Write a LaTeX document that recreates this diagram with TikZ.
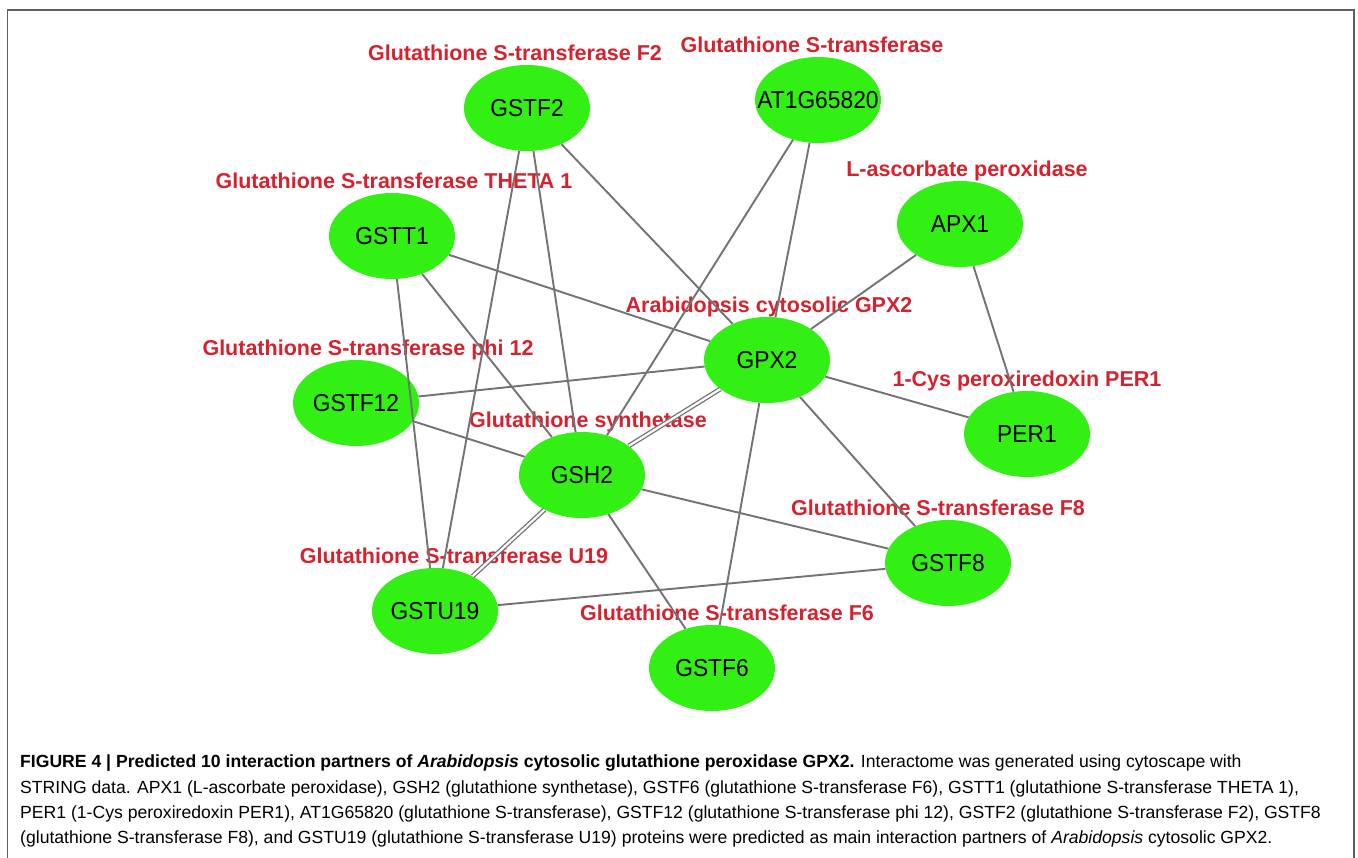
\documentclass[tikz,border=0pt]{standalone}
\usepackage{fontspec}
\setmainfont{Liberation Sans}
\usepackage{xcolor}
\usetikzlibrary{shapes.geometric,positioning}
\definecolor{protgreen}{RGB}{50,240,20}
\definecolor{labelred}{RGB}{214,34,46}
\definecolor{edgegray}{RGB}{115,115,115}
\definecolor{framegray}{RGB}{95,95,95}

\begin{document}
\begin{tikzpicture}[
        x=1pt, y=-1pt,
        prot/.style={ellipse, fill=protgreen, minimum width=126pt, minimum height=86pt, inner sep=0pt, label distance=3pt, font=\fontsize{24.5}{24.5}\selectfont\addfontfeatures{FakeStretch=0.93}},
        lbl/.style={text=labelred, inner sep=0pt, text height=15.5pt, text depth=4pt, font=\fontsize{21.5}{21.5}\selectfont\bfseries},
        edge/.style={draw=edgegray, line width=1.9pt},
        dbl/.style={draw=edgegray, line width=1.3pt, double=white, double distance=2.2pt}
    ]
        \useasboundingbox[fill=white] (0,0) rectangle (1358,858);
        \draw[framegray, line width=1.6pt] (7.5,858) |- (1354,10) -- (1354,858);

        % interaction partners
        \node[prot, label={[lbl, xshift=-12pt]above:Glutathione S-transferase F2}] (gstf2) at (527,108) {GSTF2};
        \node[prot, inner xsep=-18pt, label={[lbl, xshift=-6pt]above:Glutathione S-transferase}] (at1g) at (818,100) {AT1G65820};
        \node[prot, label={[lbl, xshift=2pt]above:Glutathione S-transferase THETA 1}] (gstt1) at (392,236) {GSTT1};
        \node[prot, label={[lbl, xshift=7pt]above:L-ascorbate peroxidase}] (apx1) at (960,224) {APX1};
        \node[prot, label={[lbl, xshift=2pt]above:Arabidopsis cytosolic GPX2}] (gpx2) at (767,360) {GPX2};
        \node[prot, label={[lbl, xshift=12pt]above:Glutathione S-transferase phi 12}] (gstf12) at (356,403) {GSTF12};
        \node[prot, label={[lbl]above:1-Cys peroxiredoxin PER1}] (per1) at (1027,434) {PER1};
        \node[prot, label={[lbl, xshift=6pt]above:Glutathione synthetase}] (gsh2) at (582,475) {GSH2};
        \node[prot, label={[lbl, xshift=-10pt]above:Glutathione S-transferase F8}] (gstf8) at (948,563) {GSTF8};
        \node[prot, label={[lbl, xshift=19pt]above:Glutathione S-transferase U19}] (gstu19) at (435,611) {GSTU19};
        \node[prot, label={[lbl, xshift=15pt]above:Glutathione S-transferase F6}] (gstf6) at (712,668) {GSTF6};

        % interactions
        \foreach \a/\b in {gstf2/gpx2, gstf2/gsh2, gstf2/gstu19, at1g/gsh2, at1g/gpx2,
                gstt1/gpx2, gstt1/gsh2, gstt1/gstu19, apx1/gpx2, apx1/per1, gpx2/per1,
                gpx2/gstf12, gpx2/gstf6, gpx2/gstf8, gstf12/gsh2, gstu19/gstf8,
                gsh2/gstf8, gsh2/gstf6} {
            \draw[edge] (\a) -- (\b);
        }
        \draw[dbl] (gpx2) -- (gsh2);
        \draw[dbl] (gsh2) -- (gstu19);

        \node[anchor=north west, inner sep=0pt, align=left, font=\fontsize{17.6}{25.3}\selectfont] (caption) at (20,755)
            {\textbf{FIGURE 4 | Predicted 10 interaction partners of \textit{Arabidopsis} cytosolic glutathione peroxidase GPX2.} Interactome was generated using cytoscape with\\
            STRING data. APX1 (L-ascorbate peroxidase), GSH2 (glutathione synthetase), GSTF6 (glutathione S-transferase F6), GSTT1 (glutathione S-transferase THETA 1),\\
            PER1 (1-Cys peroxiredoxin PER1), AT1G65820 (glutathione S-transferase), GSTF12 (glutathione S-transferase phi 12), GSTF2 (glutathione S-transferase F2), GSTF8\\
            (glutathione S-transferase F8), and GSTU19 (glutathione S-transferase U19) proteins were predicted as main interaction partners of \textit{Arabidopsis} cytosolic GPX2.};
    \end{tikzpicture}
\end{document}
